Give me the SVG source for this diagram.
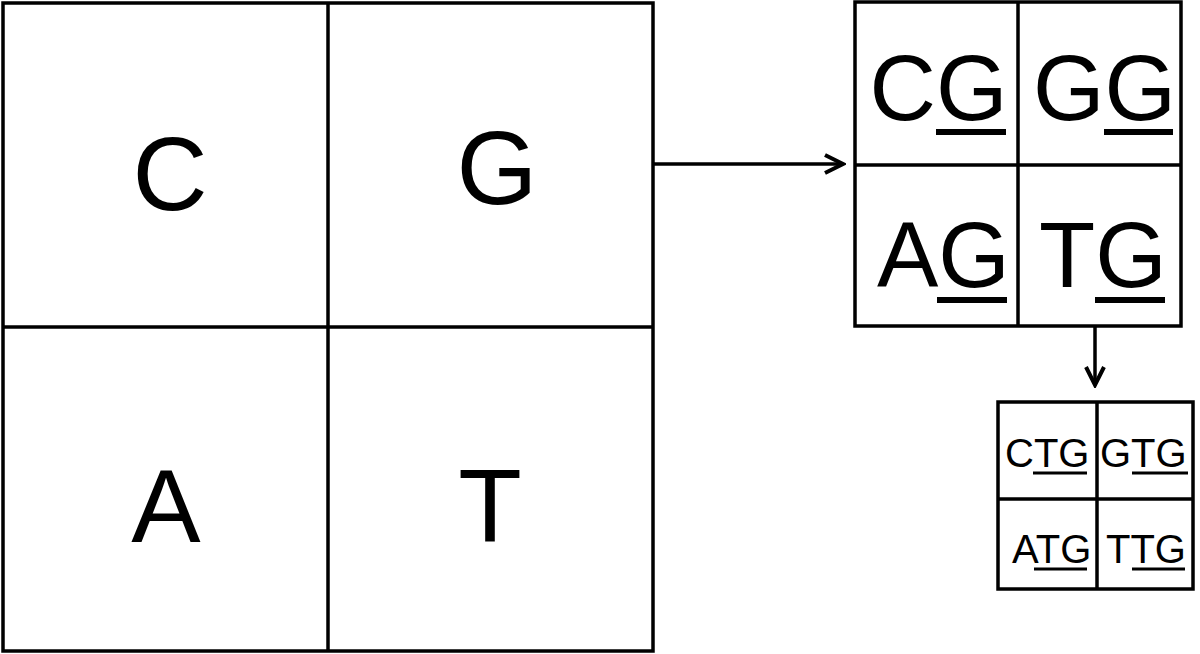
<svg xmlns="http://www.w3.org/2000/svg" width="1200" height="654" viewBox="0 0 1200 654">
<style>
.grid{fill:none;stroke:#000;stroke-width:3.5}
.gl{stroke:#000;stroke-width:3.5}
.t{font-family:"Liberation Sans",Arial,sans-serif;fill:#000}
.big{font-size:104px;text-anchor:middle}
.mid{font-size:92px}
.sm{font-size:40px}
.ul{fill:#000}
.conn{fill:none;stroke:#000;stroke-width:3.5}
</style>
<defs>
<marker id="arr" viewBox="0 0 24 24" refX="21" refY="12" markerWidth="24" markerHeight="24" markerUnits="userSpaceOnUse" orient="auto">
<path d="M3,3 L21,12 L3,21" fill="none" stroke="#000" stroke-width="4"/>
</marker>
</defs>
<g id="grid-big">
<rect class="grid" x="3" y="3" width="650" height="648"/>
<line class="gl" x1="328" y1="3" x2="328" y2="651"/>
<line class="gl" x1="3" y1="327" x2="653" y2="327"/>
<text class="t big" x="170" y="210">C</text>
<text class="t big" x="497" y="204">G</text>
<text class="t big" x="166" y="542">A</text>
<text class="t big" x="490" y="542">T</text>
</g>
<g id="grid-mid">
<rect class="grid" x="855" y="2" width="326" height="324"/>
<line class="gl" x1="1018" y1="2" x2="1018" y2="326"/>
<line class="gl" x1="855" y1="165" x2="1181" y2="165"/>
<text class="t mid" x="869.5" y="120">CG</text>
<text class="t mid" x="1033" y="120">GG</text>
<text class="t mid" x="877" y="287">AG</text>
<text class="t mid" x="1039" y="287">TG</text>
<rect class="ul" x="936" y="129" width="70" height="6"/>
<rect class="ul" x="1104" y="129" width="69" height="6"/>
<rect class="ul" x="937" y="297" width="70" height="6"/>
<rect class="ul" x="1095" y="297" width="70" height="6"/>
</g>
<g id="grid-small">
<rect class="grid" x="998" y="402" width="195" height="187"/>
<line class="gl" x1="1097" y1="402" x2="1097" y2="589"/>
<line class="gl" x1="998" y1="499" x2="1193" y2="499"/>
<text class="t sm" x="1005" y="467">CTG</text>
<text class="t sm" x="1100" y="467">GTG</text>
<text class="t sm" x="1012" y="563">ATG</text>
<text class="t sm" x="1106" y="563">TTG</text>
<rect class="ul" x="1033" y="471.5" width="54" height="3"/>
<rect class="ul" x="1132" y="471.5" width="56" height="3"/>
<rect class="ul" x="1034" y="567.5" width="53" height="3"/>
<rect class="ul" x="1132" y="567.5" width="53" height="3"/>
</g>
<g id="connectors">
<line class="conn" x1="653" y1="164" x2="843" y2="164" marker-end="url(#arr)"/>
<line class="conn" x1="1095" y1="326" x2="1095" y2="385" marker-end="url(#arr)"/>
</g>
</svg>
